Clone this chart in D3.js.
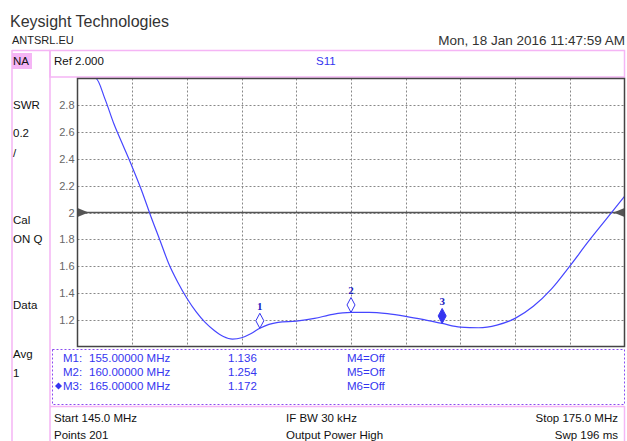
<!DOCTYPE html>
<html>
<head>
<meta charset="utf-8">
<script src="https://cdn.jsdelivr.net/npm/d3@7"></script>
<style>
  body { margin: 0; background: #fff; }
  text { font-family: "Liberation Sans", "DejaVu Sans", sans-serif; }
</style>
</head>
<body>
<div id="chart"></div>
<script>
"use strict"

// trace data, MHz / SWR
const freqs = [145, 145.5, 146, 146.5, 147, 147.5, 148, 148.5, 149, 149.5, 150, 150.5, 151, 151.5, 152, 152.5, 153, 153.5, 154, 154.5, 155, 155.5, 156, 157, 158, 159, 160, 161, 162, 163, 164, 165, 166, 167, 168, 169, 170, 171, 172, 173, 174, 175];
const swr = [3.6, 3.3, 3.05, 2.85, 2.66, 2.5, 2.34, 2.17, 1.98, 1.8, 1.62, 1.48, 1.36, 1.26, 1.18, 1.12, 1.075, 1.055, 1.065, 1.095, 1.136, 1.165, 1.18, 1.19, 1.21, 1.24, 1.254, 1.255, 1.245, 1.225, 1.2, 1.172, 1.145, 1.14, 1.16, 1.21, 1.3, 1.43, 1.6, 1.78, 1.95, 2.12];

const yTicks = [1.2, 1.4, 1.6, 1.8, 2, 2.2, 2.4, 2.6, 2.8];
const xGrid = [148, 151, 154, 157, 160, 163, 166, 169, 172];
const refValue = 2.0;

const markerIds = ["1", "2", "3"];
const markerFreqs = [155, 160, 165];
const markerVals = [1.136, 1.254, 1.172];
const activeMarker = 2;

const sideLabels = ["SWR", "0.2", "/", "Cal", "ON Q", "Data", "Avg", "1"];
const sideLabelY = [109, 137, 157, 224, 243, 309, 358, 377];

const width = 627, height = 441;
const pink = "#f5b5f5", blue = "#3535f0", gridGray = "#888";

const svg = d3.select("#chart").append("svg")
  .attr("width", width)
  .attr("height", height);

// plot area
const x = d3.scaleLinear().domain([145, 175]).range([77.5, 624.5]);
const y = d3.scaleLinear().domain([1, 3]).range([346.5, 78.5]);

// title texts
svg.append("text").attr("x", 10).attr("y", 27).attr("font-size", 16).attr("fill", "#333").text("Keysight Technologies");
svg.append("text").attr("x", 12).attr("y", 44).attr("font-size", 11).attr("fill", "#222").text("ANTSRL.EU");
svg.append("text").attr("x", 625).attr("y", 45).attr("font-size", 13.5).attr("fill", "#333")
  .attr("text-anchor", "end").text("Mon, 18 Jan 2016 11:47:59 AM");

// pink frames
svg.append("line").attr("x1", 12).attr("x2", 12).attr("y1", 50).attr("y2", 441).attr("stroke", pink).attr("stroke-width", 1.5);
svg.append("line").attr("x1", 50).attr("x2", 50).attr("y1", 50).attr("y2", 441).attr("stroke", pink).attr("stroke-width", 1.5);
svg.append("rect").attr("x", 50).attr("y", 50.5).attr("width", 574.5).attr("height", 26.5)
  .attr("fill", "none").attr("stroke", pink).attr("stroke-width", 1.5);
svg.append("line").attr("x1", 12).attr("x2", 50).attr("y1", 50.5).attr("y2", 50.5).attr("stroke", pink).attr("stroke-width", 1.5);
svg.append("rect").attr("x", 12).attr("y", 53).attr("width", 20).attr("height", 16).attr("fill", pink);
svg.append("text").attr("x", 13).attr("y", 65).attr("font-size", 11.5).attr("fill", "#111").text("NA");
svg.append("text").attr("x", 54).attr("y", 65).attr("font-size", 11.5).attr("fill", "#111").text("Ref 2.000");
svg.append("text").attr("x", 316).attr("y", 65).attr("font-size", 11.5).attr("fill", blue).text("S11");

svg.selectAll(".side").data(sideLabels).enter().append("text")
  .attr("x", 13).attr("y", (d, i) => sideLabelY[i])
  .attr("font-size", 11.5).attr("fill", "#111").text(d => d);

// grid
const grid = svg.append("g");
grid.selectAll(".hg").data(yTicks).enter().append("line")
  .attr("x1", x(145)).attr("x2", x(175))
  .attr("y1", d => Math.round(y(d)) + 0.5).attr("y2", d => Math.round(y(d)) + 0.5)
  .attr("stroke", gridGray).attr("stroke-dasharray", "2,2");
grid.selectAll(".vg").data(xGrid).enter().append("line")
  .attr("x1", d => Math.round(x(d)) + 0.5).attr("x2", d => Math.round(x(d)) + 0.5)
  .attr("y1", y(3)).attr("y2", y(1))
  .attr("stroke", gridGray).attr("stroke-dasharray", "2,2");

// y labels
const yAxis = d3.axisLeft(y).tickValues(yTicks).tickSize(0).tickPadding(3)
  .tickFormat(d => d === 2 ? "2" : d3.format(".1f")(d));
const yg = svg.append("g").attr("transform", "translate(" + x(145) + ",0)").call(yAxis);
yg.select(".domain").remove();
yg.selectAll("text").attr("font-size", 11).attr("fill", "#666")
  .style("font-family", "Liberation Sans, sans-serif");

// reference line
svg.append("line").attr("x1", x(145)).attr("x2", x(175)).attr("y1", y(refValue)).attr("y2", y(refValue))
  .attr("stroke", "#555").attr("stroke-width", 1.5);
svg.append("path")
  .attr("d", "M" + x(145) + "," + (y(refValue) - 4.5) + "L" + (x(145) + 11) + "," + y(refValue) + "L" + x(145) + "," + (y(refValue) + 4.5) + "Z")
  .attr("fill", "#555");
svg.append("path")
  .attr("d", "M" + x(175) + "," + (y(refValue) - 4.5) + "L" + (x(175) - 11) + "," + y(refValue) + "L" + x(175) + "," + (y(refValue) + 4.5) + "Z")
  .attr("fill", "#555");

// trace, clipped to the screen
svg.append("clipPath").attr("id", "clip").append("rect")
  .attr("x", x(145)).attr("y", y(3)).attr("width", x(175) - x(145)).attr("height", y(1) - y(3));
svg.append("path").datum(freqs.map((f, i) => ({f: f, v: swr[i]})))
  .attr("clip-path", "url(#clip)")
  .attr("d", d3.line().x(d => x(d.f)).y(d => y(Math.min(d.v, 3))).curve(d3.curveMonotoneX))
  .attr("fill", "none").attr("stroke", "#4646ff").attr("stroke-width", 1.2);

// plot frame
svg.append("rect").attr("x", x(145)).attr("y", y(3)).attr("width", x(175) - x(145)).attr("height", y(1) - y(3))
  .attr("fill", "none").attr("stroke", "#444").attr("stroke-width", 1.5);

// markers
const mk = svg.selectAll(".mk").data(markerFreqs).enter().append("g")
  .attr("transform", (d, i) => "translate(" + x(d) + "," + y(markerVals[i]) + ")");
mk.append("path").attr("d", "M0,0L-4,-7.5L0,-15L4,-7.5Z")
  .attr("fill", (d, i) => i === activeMarker ? blue : "#fff")
  .attr("stroke", blue).attr("stroke-width", 1);
mk.append("text").attr("x", 0).attr("y", -18).attr("text-anchor", "middle")
  .attr("font-size", 11).attr("font-weight", "bold").attr("fill", "#2020c0")
  .style("font-family", "Liberation Serif, serif")
  .text((d, i) => markerIds[i]);

// marker table
svg.append("rect").attr("x", 52.5).attr("y", 349.5).attr("width", 572).attr("height", 55)
  .attr("fill", "none").attr("stroke", "#8a4cf0").attr("stroke-dasharray", "2,2");
const rows = svg.selectAll(".row").data(markerFreqs).enter().append("g")
  .attr("transform", (d, i) => "translate(0," + (362 + i * 14) + ")");
rows.append("text").attr("x", 63).attr("font-size", 11.5).attr("fill", blue)
  .text((d, i) => "M" + markerIds[i] + ":");
rows.append("text").attr("x", 89).attr("font-size", 11.5).attr("fill", blue)
  .text(d => d3.format(".5f")(d) + " MHz");
rows.append("text").attr("x", 228).attr("font-size", 11.5).attr("fill", blue)
  .text((d, i) => d3.format(".3f")(markerVals[i]));
rows.append("text").attr("x", 347).attr("font-size", 11.5).attr("fill", blue)
  .text((d, i) => "M" + (i + 4) + "=Off");
svg.append("path").attr("d", "M55,386L58.5,382.5L62,386L58.5,389.5Z").attr("fill", blue);

// bottom status strip
svg.append("line").attr("x1", 50).attr("x2", 625).attr("y1", 406.5).attr("y2", 406.5).attr("stroke", pink).attr("stroke-width", 1.5);
svg.append("line").attr("x1", 624.5).attr("x2", 624.5).attr("y1", 406).attr("y2", 441).attr("stroke", pink).attr("stroke-width", 1.5);
const status = [
  ["Start 145.0 MHz", 54, 422, "start"], ["Points 201", 54, 439, "start"],
  ["IF BW 30 kHz", 286, 422, "start"], ["Output Power High", 286, 439, "start"],
  ["Stop 175.0 MHz", 618, 422, "end"], ["Swp 196 ms", 618, 439, "end"]
];
svg.selectAll(".st").data(status).enter().append("text")
  .attr("x", d => d[1]).attr("y", d => d[2]).attr("text-anchor", d => d[3])
  .attr("font-size", 11.5).attr("fill", "#111").text(d => d[0]);
</script>
</body>
</html>
